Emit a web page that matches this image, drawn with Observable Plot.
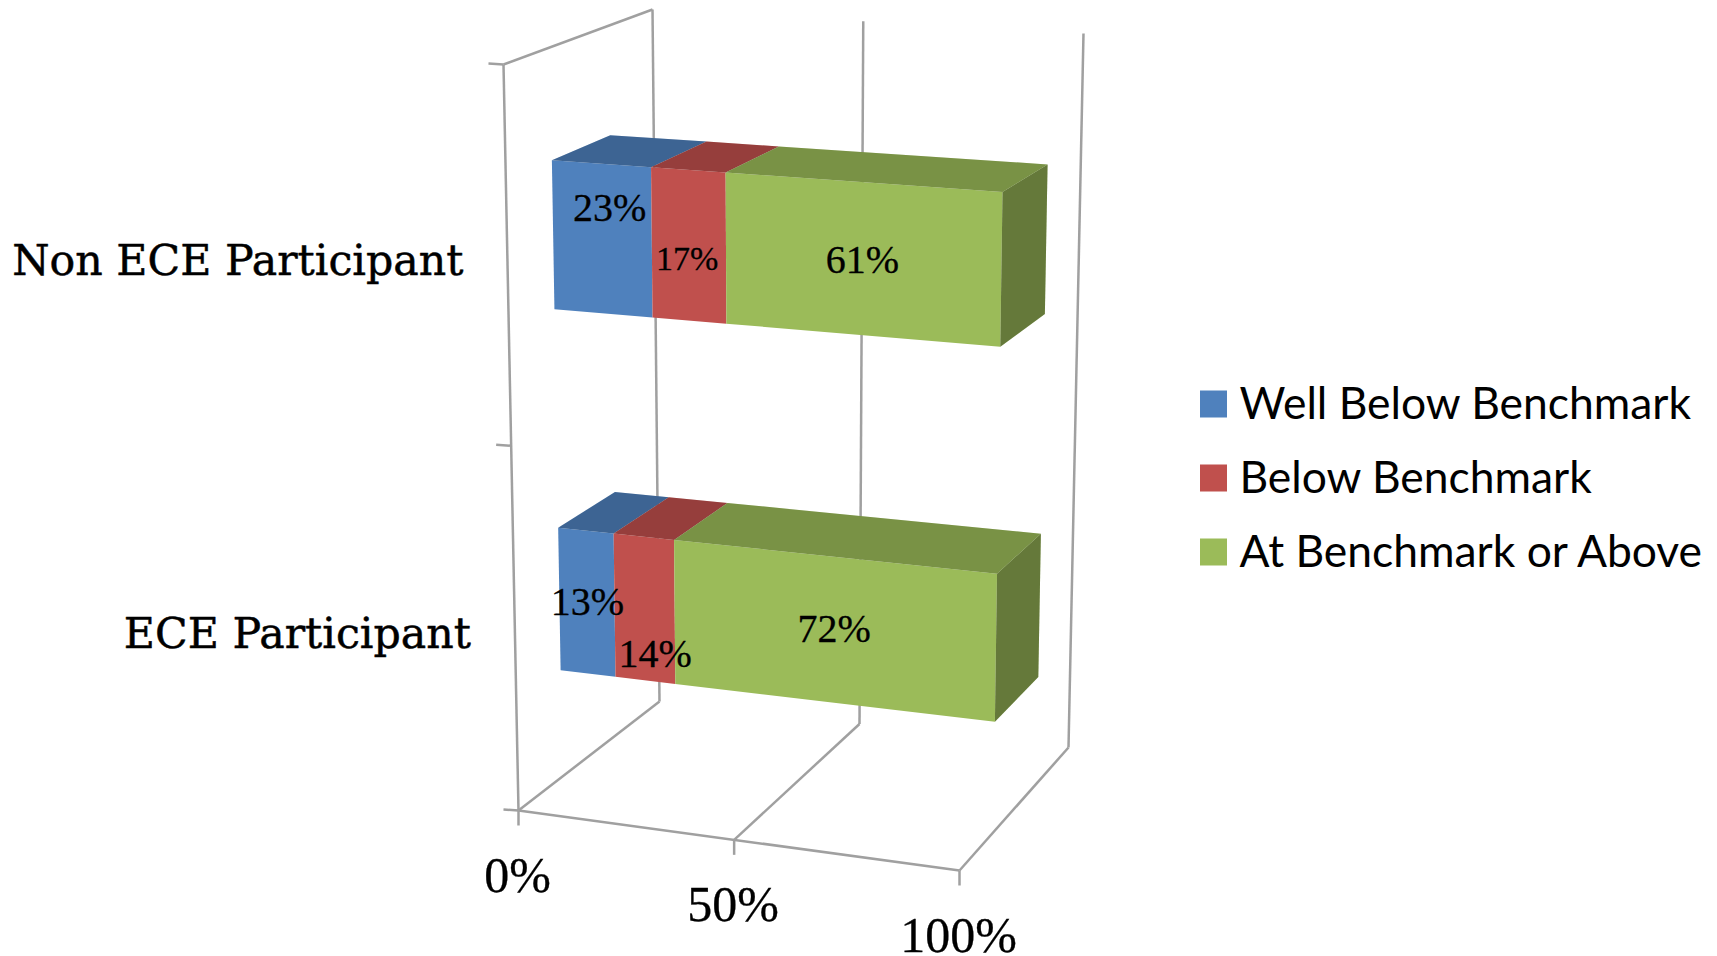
<!DOCTYPE html>
<html>
<head>
<meta charset="utf-8">
<script src="https://cdn.jsdelivr.net/npm/d3@7"></script>
<script src="https://cdn.jsdelivr.net/npm/@observablehq/plot@0.6"></script>
<style>
  html, body { margin: 0; background: #fff; }
  svg { display: block; }
</style>
</head>
<body>
<div id="chart"></div>
<script>
// Survey results: share of pupils in each benchmark band, by ECE participation.
const categories = ["Non ECE Participant", "ECE Participant"];
const seriesNames = ["Well Below Benchmark", "Below Benchmark", "At Benchmark or Above"];
const wellBelow = [23, 13];
const below = [17, 14];
const atOrAbove = [61, 72];
const percentTicks = [0, 50, 100];
const seriesColors = ["#4f81bd", "#c0504d", "#9bbb59"];

// Label placement: nudges away from the segment centre, and font sizes.
const labelNudge = [
  [[7, -31], [-2, 13], [0, 1]],
  [[0, -1], [10, 45], [1, -1]]
];
const labelSize = [
  [40, 34, 40],
  [40, 40, 40]
];

// Box frame of the 3D chart: screen position of each corner, keyed front/back, bottom/top, left/right.
const frame = {
  fbl: [518, 810], fbr: [959, 870], ftl: [503, 64], ftr: [968, 93],
  bbl: [659, 701], bbr: [1068, 747], btl: [652, 9], btr: [1083, 33]
};
const perspective = 1.045;       // foreshortening along the percent and band axes
const barHalfHeight = 0.2;       // half a bar, in category bands
const barDepth = [0.315, 0.71];  // the slab's front and back, as a fraction of the floor depth
const bandCentre = [1.5, 0.5];

const foreshorten = (t) => t / (t + perspective * (1 - t));

// Maps percent (0-100), band height (0-2) and depth (0-1) to a screen point.
function project(pct, band, depth) {
  const u = foreshorten(pct / 100);
  const v = foreshorten(band / 2);
  const mix = (a, b, k) => a + (b - a) * k;
  return [0, 1].map((i) => {
    const front = mix(mix(frame.fbl[i], frame.fbr[i], u), mix(frame.ftl[i], frame.ftr[i], u), v);
    const back = mix(mix(frame.bbl[i], frame.bbr[i], u), mix(frame.btl[i], frame.btr[i], u), v);
    return mix(front, back, depth);
  });
}

// One quadrilateral per face, written as the two end edges of a Plot.area.
const quad = (id, extra, a1, a2, b1, b2) => [
  {id, ...extra, x1: a1[0], y1: a1[1], x2: a2[0], y2: a2[1]},
  {id, ...extra, x1: b1[0], y1: b1[1], x2: b2[0], y2: b2[1]}
];

const frontFaces = [], topFaces = [], sideFaces = [], labels = [];
categories.forEach((category, c) => {
  const values = [wellBelow[c], below[c], atOrAbove[c]];
  const total = d3.sum(values);
  const lo = bandCentre[c] - barHalfHeight;
  const hi = bandCentre[c] + barHalfHeight;
  const [df, db] = barDepth;
  let start = 0;
  values.forEach((value, s) => {
    const p0 = (start / total) * 100;
    const p1 = ((start + value) / total) * 100;
    const series = seriesNames[s];
    const id = category + series;
    frontFaces.push(...quad(id, {series},
      project(p0, lo, df), project(p0, hi, df), project(p1, lo, df), project(p1, hi, df)));
    topFaces.push(...quad(id, {series},
      project(p0, hi, df), project(p0, hi, db), project(p1, hi, df), project(p1, hi, db)));
    const centre = project((p0 + p1) / 2, bandCentre[c], df);
    labels.push({
      text: value + "%",
      x: centre[0] + labelNudge[c][s][0],
      y: centre[1] + labelNudge[c][s][1],
      size: labelSize[c][s]
    });
    start += value;
  });
  sideFaces.push(...quad(category, {series: seriesNames[2]},
    project(100, lo, df), project(100, hi, df), project(100, lo, db), project(100, hi, db)));
});

// Frame lines: the walls and the floor of the chart box.
const seg = (a, b) => ({x1: a[0], y1: a[1], x2: b[0], y2: b[1]});
const frameLines = [
  seg(project(0, 0, 0), project(0, 2, 0)),
  seg(project(0, 2, 0), project(0, 2, 1)),
  seg(project(0, 0, 0), project(100, 0, 0)),
  ...percentTicks.map((p) => seg(project(p, 0, 0), project(p, 0, 1))),
  ...percentTicks.map((p) => seg(project(p, 0, 1), project(p, 2, 1)))
];
const bandTicks = [0, 1, 2].map((b) => {
  const p = project(0, b, 0);
  return seg([p[0] - 15, p[1] - 1], p);
});
const percentTickLines = percentTicks.map((v) => {
  const p = project(v, 0, 0);
  return seg(p, [p[0], p[1] + 15]);
});
const percentLabels = percentTicks.map((v) => {
  const p = project(v, 0, 0);
  return {text: v + "%", x: p[0] - 1, y: p[1] + 65};
});
const categoryLabels = categories.map((text, c) => {
  const p = project(0, bandCentre[c], 0);
  return {text, x: p[0] - 44, y: p[1] + 4};
});

// Legend rows sit to the right of the chart box.
const legendX = 1200, legendRow = [404, 478, 552], swatch = 27;
const legend = seriesNames.map((name, i) => ({name, y: legendRow[i]}));

const serif = "'DejaVu Serif', serif";
const digits = "'Liberation Serif', serif";
const lineColor = "#a0a0a0";

const chart = Plot.plot({
  width: 1717,
  height: 956,
  margin: 0,
  x: {type: "identity", axis: null},
  y: {type: "identity", axis: null},
  color: {domain: seriesNames, range: seriesColors},
  marks: [
    Plot.link(frameLines, {x1: "x1", y1: "y1", x2: "x2", y2: "y2", stroke: lineColor, strokeWidth: 2.5}),
    Plot.link(bandTicks, {x1: "x1", y1: "y1", x2: "x2", y2: "y2", stroke: lineColor, strokeWidth: 2.5}),
    Plot.link(percentTickLines, {x1: "x1", y1: "y1", x2: "x2", y2: "y2", stroke: lineColor, strokeWidth: 2.5}),
    // Each slab: lit front, darker top, darkest end cap.
    Plot.area(frontFaces, {x1: "x1", y1: "y1", x2: "x2", y2: "y2", z: "id", fill: "series"}),
    Plot.area(topFaces, {x1: "x1", y1: "y1", x2: "x2", y2: "y2", z: "id", fill: "series"}),
    Plot.area(topFaces, {x1: "x1", y1: "y1", x2: "x2", y2: "y2", z: "id", fill: "#000", fillOpacity: 0.22}),
    Plot.area(sideFaces, {x1: "x1", y1: "y1", x2: "x2", y2: "y2", z: "id", fill: "series"}),
    Plot.area(sideFaces, {x1: "x1", y1: "y1", x2: "x2", y2: "y2", z: "id", fill: "#000", fillOpacity: 0.35}),
    Plot.text(labels, {x: "x", y: "y", text: "text", fontSize: "size", fontFamily: digits, fill: "#000", stroke: "#000", strokeWidth: 0.3}),
    Plot.text(categoryLabels, {x: "x", y: "y", text: "text", textAnchor: "end", fontSize: 42.7, fontFamily: serif, fill: "#000", stroke: "#000", strokeWidth: 0.5}),
    Plot.text(percentLabels, {x: "x", y: "y", text: "text", fontSize: 50, fontFamily: digits, fill: "#000", stroke: "#000", strokeWidth: 0.3}),
    Plot.rect(legend, {x1: legendX, x2: legendX + swatch, y1: (d) => d.y - swatch / 2, y2: (d) => d.y + swatch / 2, fill: "name"}),
    Plot.text(legend, {x: legendX + 39, y: "y", text: "name", textAnchor: "start", fontSize: 44.4, fontFamily: "Lato, sans-serif", fill: "#000"})
  ]
});
document.getElementById("chart").append(chart);
</script>
</body>
</html>
